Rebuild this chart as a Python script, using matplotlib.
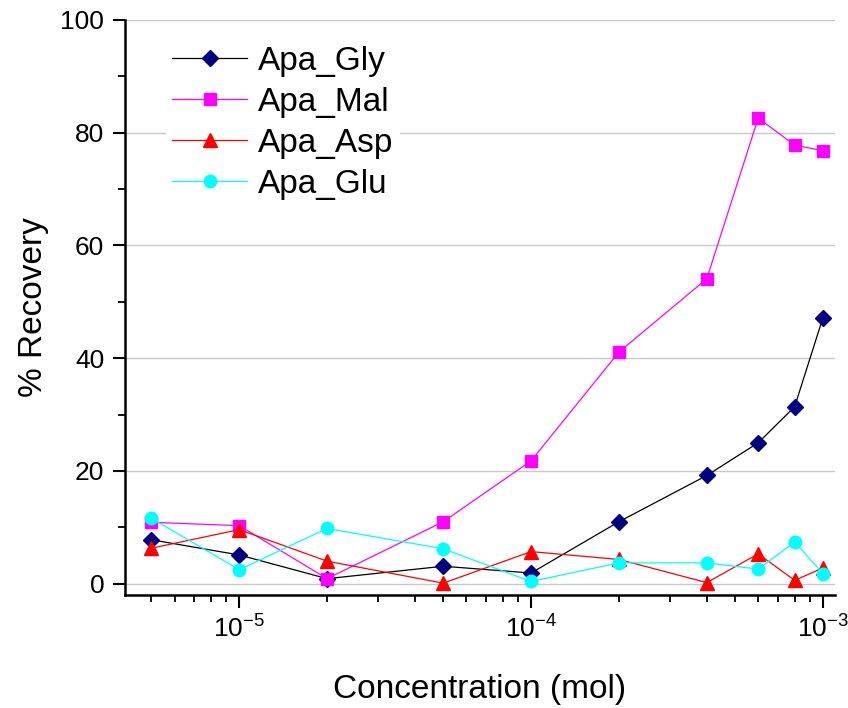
import matplotlib
matplotlib.use("Agg")
import matplotlib.pyplot as plt
from matplotlib.ticker import LogLocator, MultipleLocator, NullFormatter

plt.rcParams["font.family"] = ["Liberation Sans", "DejaVu Sans"]
plt.rcParams["mathtext.fontset"] = "custom"
plt.rcParams["mathtext.rm"] = "Liberation Sans"
plt.rcParams["mathtext.it"] = "Liberation Sans"

# concentration (mol)
conc = [5e-6, 1e-5, 2e-5, 5e-5, 1e-4, 2e-4, 4e-4, 6e-4, 8e-4, 1e-3]

# % recovery
gly = [7.8, 5.1, 0.9, 3.1, 1.9, 11.0, 19.2, 25.0, 31.4, 47.2]
mal = [10.9, 10.3, 0.9, 11.0, 21.8, 41.1, 54.1, 82.6, 77.8, 76.8]
asp = [6.3, 9.6, 4.0, 0.1, 5.7, 4.3, 0.2, 5.3, 0.6, 2.8]
glu = [11.6, 2.5, 9.8, 6.2, 0.4, 3.7, 3.7, 2.6, 7.4, 1.8]

fig = plt.figure(figsize=(8.48, 7.08), dpi=100)
ax = fig.add_axes([0.1474, 0.1596, 0.8373, 0.8122])

ax.plot(conc, gly, color="black", lw=0.9, marker="D", ms=8,
        mfc="#000080", mec="#000080", label="Apa_Gly")
ax.plot(conc, mal, color="#ff00ff", lw=0.9, marker="s", ms=8.5,
        mfc="#ff00ff", mec="#ff00ff", label="Apa_Mal")
ax.plot(conc, asp, color="red", lw=0.9, marker="^", ms=10,
        mfc="red", mec="red", label="Apa_Asp")
ax.plot(conc, glu, color="#00ffff", lw=0.9, marker="o", ms=9,
        mfc="#00ffff", mec="#00ffff", label="Apa_Glu")

ax.set_xscale("log")
ax.set_xlim(4.06e-6, 1.1e-3)
ax.set_ylim(-2, 100)

ax.xaxis.set_major_locator(LogLocator(base=10, numticks=10))
ax.xaxis.set_minor_locator(LogLocator(base=10, subs=range(2, 10), numticks=20))
ax.xaxis.set_minor_formatter(NullFormatter())
ax.yaxis.set_major_locator(MultipleLocator(20))
ax.yaxis.set_minor_locator(MultipleLocator(10))

ax.grid(axis="y", which="major", color="#c8c8c8", lw=1)
ax.set_axisbelow(True)

for s in ["top", "right"]:
    ax.spines[s].set_visible(False)
for s in ["left", "bottom"]:
    ax.spines[s].set_linewidth(1.8)

ax.tick_params(which="major", direction="out", length=9, width=1.5,
               labelsize=19, pad=6)
ax.tick_params(which="minor", direction="out", length=5, width=1.3)

ax.set_xlabel("Concentration (mol)", fontsize=24, labelpad=22)
ax.set_ylabel("% Recovery", fontsize=24, labelpad=8)

leg = ax.legend(loc="upper left", bbox_to_anchor=(0.034, 0.996), fontsize=24,
                frameon=True, framealpha=1, edgecolor="none",
                handlelength=2.25, handletextpad=0.3, labelspacing=0.3,
                borderpad=0.2)

fig.savefig("out.png", dpi=100)
